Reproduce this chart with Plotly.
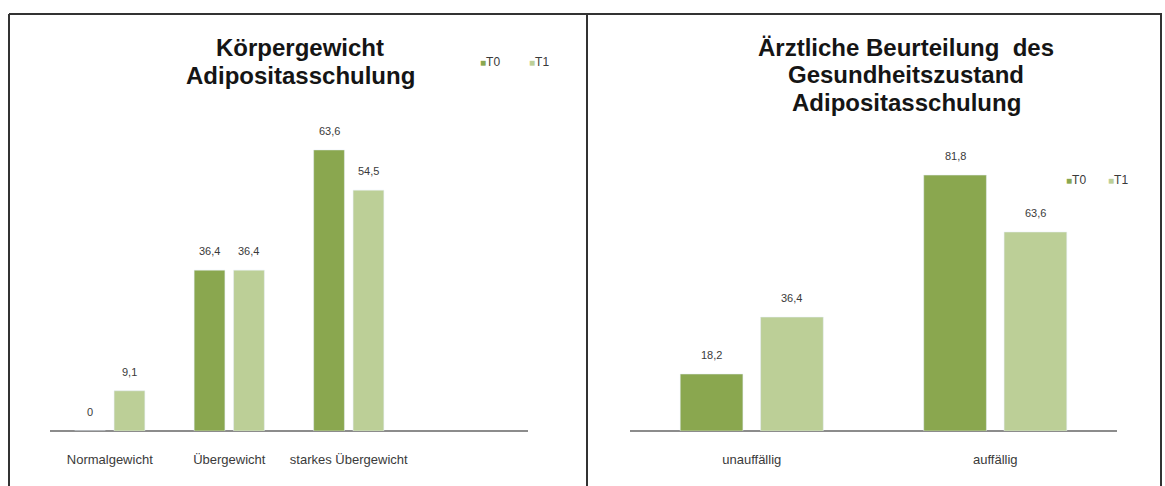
import plotly.graph_objects as go

# ---- data ----
cats_left = ["Normalgewicht", "Übergewicht", "starkes Übergewicht"]
t0_left = [0, 36.4, 63.6]
t1_left = [9.1, 36.4, 54.5]

cats_right = ["unauffällig", "auffällig"]
t0_right = [18.2, 81.8]
t1_right = [36.4, 63.6]

series_names = ["T0", "T1"]
title_left = ["Körpergewicht", "Adipositasschulung"]
title_right = ["Ärztliche Beurteilung  des", "Gesundheitszustand", "Adipositasschulung"]

# ---- style ----
C0 = "#8aa74f"
C1 = "#bccf97"
TXT = "#3a3a3a"
FONT = "Liberation Sans, Arial, sans-serif"
W, H = 1165, 486
BARGAP = 0.34
SLOT = (1 - BARGAP) / 4


def fmt(v):
    if v == 0:
        return "0"
    return f"{v:.1f}".replace(".", ",")


fig = go.Figure()
for name, vals, col in [("T0", t0_left, C0), ("T1", t1_left, C1)]:
    fig.add_trace(go.Bar(x=cats_left, y=vals, name=name, marker_color=col,
                         xaxis="x", yaxis="y", showlegend=False, hoverinfo="x+y"))
for name, vals, col in [("T0", t0_right, C0), ("T1", t1_right, C1)]:
    fig.add_trace(go.Bar(x=cats_right, y=vals, name=name, marker_color=col,
                         xaxis="x2", yaxis="y2", showlegend=False, hoverinfo="x+y"))

ann = []
# value labels
for ax, cats, series in [("", cats_left, [t0_left, t1_left]), ("2", cats_right, [t0_right, t1_right])]:
    for si, vals in enumerate(series):
        off = -SLOT if si == 0 else SLOT
        for i, v in enumerate(vals):
            ann.append(dict(x=i + off, y=v, xref="x" + ax, yref="y" + ax, text=fmt(v),
                            showarrow=False, yanchor="bottom", yshift=11,
                            font=dict(family=FONT, size=11, color=TXT)))


def px_x(p):
    return p / W


def px_y(p):
    return 1 - p / H


# titles
for k, line in enumerate(title_left):
    ann.append(dict(x=px_x(300), y=px_y(47 + 28 * k), xref="paper", yref="paper", text=f"<b>{line}</b>",
                    showarrow=False, xanchor="center", yanchor="middle",
                    font=dict(family=FONT, size=24, color="#151515")))
for k, line in enumerate(title_right):
    ann.append(dict(x=px_x(906), y=px_y(47 + 27.5 * k), xref="paper", yref="paper", text=f"<b>{line}</b>",
                    showarrow=False, xanchor="center", yanchor="middle",
                    font=dict(family=FONT, size=24, color="#151515")))

# legends
for (lx, ly) in [((478, 527), 62), ((1064, 1106), 180)]:
    for j, (nm, col) in enumerate(zip(series_names, [C0, C1])):
        ann.append(dict(x=px_x(lx[j]), y=px_y(ly), xref="paper", yref="paper",
                        text=f"<span style='color:{col}; font-size:10px'>■</span>{nm}",
                        showarrow=False, xanchor="left", yanchor="middle",
                        font=dict(family=FONT, size=12, color=TXT)))

LINE = dict(color="#333333", width=2)
shapes = [
    dict(type="line", xref="paper", yref="paper", x0=px_x(9), x1=px_x(1162), y0=px_y(14), y1=px_y(14), line=LINE),
    dict(type="line", xref="paper", yref="paper", x0=px_x(9), x1=px_x(9), y0=px_y(14), y1=px_y(490), line=LINE),
    dict(type="line", xref="paper", yref="paper", x0=px_x(587), x1=px_x(587), y0=px_y(14), y1=px_y(490), line=LINE),
    dict(type="line", xref="paper", yref="paper", x0=px_x(1161), x1=px_x(1161), y0=px_y(14), y1=px_y(490), line=LINE),
]

ydom = [px_y(431), px_y(100)]
common_x = dict(type="category", showgrid=False, zeroline=False, showline=False,
                ticks="", tickfont=dict(family=FONT, size=13, color=TXT), ticklabelstandoff=19)
common_y = dict(showgrid=False, zeroline=True, zerolinecolor="#8c8c8c", zerolinewidth=1.5,
                showticklabels=False, showline=False, ticks="")

fig.update_layout(
    width=W, height=H, margin=dict(l=0, r=0, t=0, b=0),
    paper_bgcolor="white", plot_bgcolor="white",
    barmode="group", bargap=BARGAP, bargroupgap=0.22,
    xaxis=dict(domain=[px_x(50), px_x(528)], range=[-0.5, 3.5], anchor="y", **common_x),
    yaxis=dict(domain=ydom, range=[0, 74.9], anchor="x", **common_y),
    xaxis2=dict(domain=[px_x(630), px_x(1117)], range=[-0.5, 1.5], anchor="y2", **common_x),
    yaxis2=dict(domain=ydom, range=[0, 105.8], anchor="x2", **common_y),
    annotations=ann, shapes=shapes,
)

fig.write_html("out.html", config={"displayModeBar": False},
               post_script="document.body.style.margin='0';document.body.style.overflow='hidden';")
